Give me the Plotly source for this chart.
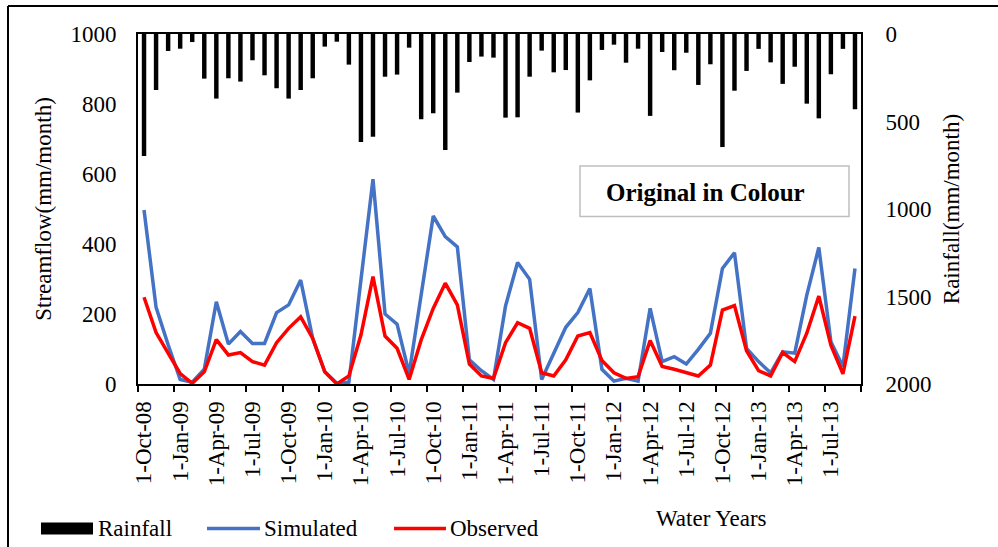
import pandas as pd
import plotly.graph_objects as go

months = [f"1-{d.strftime('%b')}-{d.strftime('%y')}" for d in pd.date_range("2008-10-01", periods=60, freq="MS")]

rainfall = [697, 320, 97, 84, 46, 255, 369, 253, 272, 150, 236, 310, 369, 320, 253, 72, 44, 175, 617, 587,
            244, 232, 78, 487, 453, 663, 335, 160, 129, 135, 478, 476, 244, 95, 219, 206, 449, 265, 91, 61,
            164, 84, 468, 103, 207, 107, 291, 173, 646, 324, 211, 85, 162, 285, 187, 398, 482, 230, 85, 430]
simulated = [497, 219, 112, 13, 5, 42, 235, 114, 150, 116, 116, 204, 226, 297, 130, 35, 2, 5, 297, 585,
             200, 171, 30, 254, 480, 421, 392, 69, 38, 13, 223, 347, 299, 13, 88, 162, 204, 273, 42, 8,
             16, 8, 216, 64, 78, 57, 99, 145, 330, 375, 102, 64, 32, 92, 88, 254, 390, 121, 50, 330]
observed = [248, 147, 88, 30, 2, 35, 127, 83, 90, 64, 54, 118, 159, 192, 130, 35, 0, 23, 140, 307,
            137, 102, 13, 126, 216, 288, 226, 57, 23, 16, 118, 175, 159, 32, 23, 69, 137, 147, 67, 32,
            16, 21, 124, 50, 42, 32, 23, 54, 211, 224, 95, 38, 23, 90, 64, 145, 251, 111, 29, 194]

series_names = ["Rainfall", "Simulated", "Observed"]
series_colors = ["black", "#4472C4", "#FF0000"]

FONT = "Liberation Serif"
FS = 23

fig = go.Figure()
fig.add_trace(go.Bar(x=months, y=rainfall, name=series_names[0], yaxis="y2",
                     marker=dict(color=series_colors[0], line=dict(width=0))))
fig.add_trace(go.Scatter(x=months, y=simulated, name=series_names[1], mode="lines",
                         line=dict(color=series_colors[1], width=3.5)))
fig.add_trace(go.Scatter(x=months, y=observed, name=series_names[2], mode="lines",
                         line=dict(color=series_colors[2], width=3.5)))

W, H = 998, 547
L, R, T, B = 138, 861, 34, 384
pw, ph = R - L, B - T


def px(x):
    return (x - L) / pw


def py(y):
    return (B - y) / ph


LEG_Y = 528.5
shapes = [
    dict(type="rect", xref="paper", yref="paper", x0=px(580), x1=px(849), y0=py(216.5), y1=py(166),
         line=dict(color="#BFBFBF", width=1.5), fillcolor="white", layer="above"),
    dict(type="line", xref="paper", yref="paper", x0=px(8), x1=px(8), y0=py(6), y1=py(560),
         line=dict(color="black", width=2)),
    dict(type="line", xref="paper", yref="paper", x0=px(8), x1=px(1010), y0=py(6), y1=py(6),
         line=dict(color="black", width=2)),
    # legend symbols
    dict(type="rect", xref="paper", yref="paper", x0=px(41), x1=px(93), y0=py(LEG_Y + 6), y1=py(LEG_Y - 6),
         line=dict(width=0), fillcolor=series_colors[0]),
    dict(type="line", xref="paper", yref="paper", x0=px(207), x1=px(260), y0=py(LEG_Y), y1=py(LEG_Y),
         line=dict(color=series_colors[1], width=3.5)),
    dict(type="line", xref="paper", yref="paper", x0=px(394), x1=px(446), y0=py(LEG_Y), y1=py(LEG_Y),
         line=dict(color=series_colors[2], width=3.5)),
]

annotations = [
    dict(text="<b>Original in Colour</b>", xref="paper", yref="paper", x=px(705), y=py(192),
         xanchor="center", yanchor="middle", showarrow=False,
         font=dict(family=FONT, size=25, color="black")),
    dict(text="Water Years", xref="paper", yref="paper", x=px(711), y=py(518),
         xanchor="center", yanchor="middle", showarrow=False,
         font=dict(family=FONT, size=FS, color="black")),
]
for name, xl in zip(series_names, [96, 262, 448]):
    annotations.append(dict(text=name, xref="paper", yref="paper", x=px(xl), y=py(LEG_Y),
                            xanchor="left", yanchor="middle", showarrow=False,
                            font=dict(family=FONT, size=FS, color="black")))

fig.update_layout(
    width=W, height=H,
    margin=dict(l=L, r=W - R, t=T, b=H - B, autoexpand=False),
    paper_bgcolor="white", plot_bgcolor="white",
    font=dict(family=FONT, size=FS, color="black"),
    bargap=0.63,
    showlegend=False,
    xaxis=dict(type="category", categoryorder="array", categoryarray=months,
               tickmode="linear", tick0=0, dtick=3, tickson="boundaries",
               ticks="outside", ticklen=6, tickwidth=1.5, tickcolor="black",
               tickangle=-90, showgrid=False, zeroline=False,
               showline=True, linecolor="black", linewidth=2, mirror=True,
               tickfont=dict(family=FONT, size=FS), ticklabelstandoff=6,
               range=[-0.5, 59.5]),
    yaxis=dict(range=[0, 1000], dtick=200, showgrid=False, zeroline=False,
               showline=True, linecolor="black", linewidth=2, mirror=True,
               ticks="", tickfont=dict(family=FONT, size=FS), ticklabelstandoff=15,
               title=dict(text="Streamflow(mm/month)", font=dict(family=FONT, size=FS), standoff=12)),
    yaxis2=dict(range=[2000, 0], dtick=500, overlaying="y", side="right", showgrid=False,
                zeroline=False, showline=True, linecolor="black", linewidth=2, ticks="",
                tickfont=dict(family=FONT, size=FS), ticklabelstandoff=18,
                title=dict(text="Rainfall(mm/month)", font=dict(family=FONT, size=FS), standoff=12)),
    shapes=shapes,
    annotations=annotations,
)

fig.write_html("out.html", config={"displayModeBar": False},
               post_script="document.body.style.margin='0px';document.body.style.overflow='hidden';")
